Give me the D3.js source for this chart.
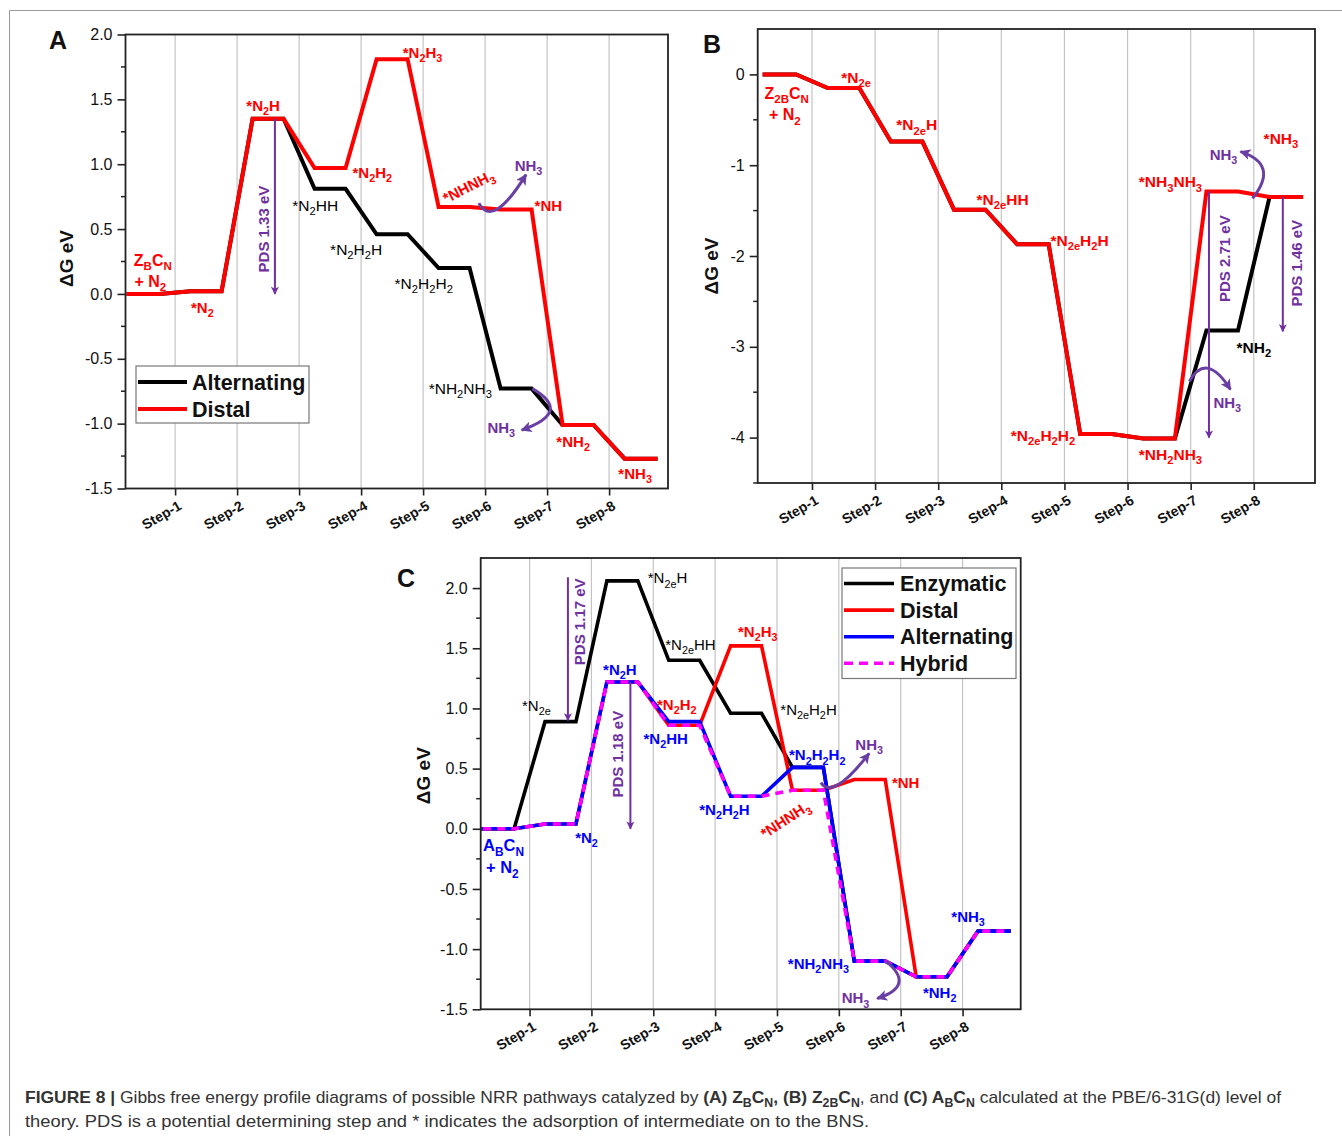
<!DOCTYPE html>
<html><head><meta charset="utf-8">
<script src="https://cdn.jsdelivr.net/npm/d3@7"></script>
<style>
body{margin:0;background:#fff}
svg{display:block}
text{font-family:"Liberation Sans",Arial,Helvetica,sans-serif}
</style>
</head><body>
<svg id="c" width="1342" height="1136"></svg>
<script>
// ---------------- DATA ----------------
const steps = ["Step-1","Step-2","Step-3","Step-4","Step-5","Step-6","Step-7","Step-8"];
const ticksAC = [-1.5,-1.0,-0.5,0.0,0.5,1.0,1.5,2.0];
const ticksB = [-4,-3,-2,-1,0];

// Panel A (Z_B C_N)
const aAlternating = [0, 0.02, 1.35, 0.81, 0.46, 0.20, -0.73, -1.01, -1.27];
const aDistal      = [0, 0.02, 1.35, 0.97, 1.81, 0.67, 0.65, -1.01, -1.27];
// Panel B (Z_2B C_N)
const bAlternating = [0, -0.15, -0.74, -1.49, -1.87, -3.96, -4.01, -2.82, -1.35];
const bDistal      = [0, -0.15, -0.74, -1.49, -1.87, -3.96, -4.01, -1.29, -1.35];
// Panel C (A_B C_N)
const cEnzymatic   = [0, 0.89, 2.06, 1.40, 0.96, 0.51, -1.10, -1.23, -0.85];
const cDistal      = [0, 0.04, 1.22, 0.86, 1.52, 0.32, 0.41, -1.23, -0.85];
const cAlternating = [0, 0.04, 1.22, 0.89, 0.27, 0.51, -1.10, -1.23, -0.85];
const cHybrid      = [0, 0.04, 1.22, 0.86, 0.27, 0.32, -1.10, -1.23, -0.85];

// annotations: [text, x(step units), y(eV), rotation]
const aRedLabels = [["*N{2}",1.44,-0.11],["*N{2}H",2.42,1.45],["*N{2}H{2}",4.18,0.93],["*N{2}H{3}",4.99,1.86],
  ["*NHNH{3}",5.77,0.83,-27],["*NH",7.02,0.68],["*NH{2}",7.42,-1.14],["*NH{3}",8.42,-1.39]];
const aBlackLabels = [["*N{2}HH",3.26,0.68],["*N{2}H{2}H",3.92,0.34],["*N{2}H{2}H{2}",5.01,0.08],["*NH{2}NH{3}",5.6,-0.73]];
const aStart = [["Z{B}C{N}",0.64,0.256],["+ N{2}",0.60,0.095]];
const aNH3 = [["NH{3}",6.70,0.99],["NH{3}",6.26,-1.03]];

const bRedLabels = [["*N{2e}",1.70,-0.04],["*N{2e}H",2.66,-0.56],["*N{2e}HH",4.02,-1.38],["*N{2e}H{2}H",5.24,-1.83],
  ["*N{2e}H{2}H{2}",4.66,-3.98],["*NH{2}NH{3}",6.68,-4.19],["*NH{3}NH{3}",6.68,-1.19],["*NH{3}",8.43,-0.71]];
const bBlackLabels = [["*NH{2}",8.00,-3.01]];
const bStart = [["Z{2B}C{N}",0.60,-0.215],["+ N{2}",0.57,-0.45]];
const bNH3 = [["NH{3}",7.52,-0.89],["NH{3}",7.58,-3.62]];

const cBlackLabels = [["*N{2e}",1.11,1.02],["*N{2e}H",3.23,2.08],["*N{2e}HH",3.60,1.53],["*N{2e}H{2}H",5.51,0.99]];
const cRedLabels = [["*N{2}H{2}",3.38,1.03],["*N{2}H{3}",4.69,1.635],["*NHNH{3}",5.18,0.08,-33],["*NH",7.08,0.384]];
const cBlueLabels = [["*N{2}",1.92,-0.077],["*N{2}H",2.46,1.32],["*N{2}HH",3.20,0.75],["*N{2}H{2}H",4.15,0.155],
  ["*N{2}H{2}H{2}",5.65,0.61],["*NH{2}NH{3}",5.67,-1.12],["*NH{2}",7.63,-1.365],["*NH{3}",8.09,-0.73]];
const cStart = [["A{B}C{N}",0.58,-0.146],["+ N{2}",0.56,-0.326]];
const cNH3 = [["NH{3}",6.49,0.70],["NH{3}",6.27,-1.41]];

// PDS arrows: [x, yFrom, yTo, label, labelX, labelY]
const aPDS = [[2.61,1.35,0.0,"PDS 1.33 eV",2.42,0.5]];
const bPDS = [[7.29,-1.29,-4.0,"PDS 2.71 eV",7.53,-2.03],[8.46,-1.35,-2.83,"PDS 1.46 eV",8.67,-2.08]];
const cPDS = [[1.62,2.09,0.90,"PDS 1.17 eV",1.80,1.72],[2.63,1.22,0.0,"PDS 1.18 eV",2.42,0.62]];
// curved NH3 release arrows: start, control, end
const aCurves = [[[5.9,0.70],[6.12,0.5],[6.66,0.92]],[[6.76,-0.73],[7.42,-0.91],[6.59,-1.05]]];
const bCurves = [[[7.98,-1.366],[8.41,-0.99],[7.79,-0.85]],[[6.98,-3.38],[7.25,-3.05],[7.63,-3.47]]];
const cCurves = [[[5.71,0.384],[5.9,0.234],[6.49,0.627]],[[6.76,-1.10],[7.25,-1.305],[6.62,-1.41]]];

// ---------------- STYLE ----------------
const RED="#ff0000", BLACK="#000000", BLUE="#0000ff", MAG="#ff00ff", PURPLE="#7030a0", CURVE="#6a3fa3";
const FONT = "'Liberation Sans', Arial, sans-serif";

const svg = d3.select("#c");
const defs = svg.append("defs");
function marker(id, color, w, h){
  defs.append("marker").attr("id",id).attr("viewBox","0 0 10 10").attr("refX",9).attr("refY",5)
    .attr("markerUnits","userSpaceOnUse").attr("markerWidth",w).attr("markerHeight",h).attr("orient","auto")
    .append("path").attr("d","M0,0 L10,5 L0,10 L2.5,5 z").attr("fill",color);
}
marker("pds", PURPLE, 9, 8);
marker("crv", CURVE, 11, 11);

// page border
svg.append("line").attr("x1",9.5).attr("x2",1342).attr("y1",10.5).attr("y2",10.5).attr("stroke","#999").attr("stroke-width",1);
svg.append("line").attr("x1",9.5).attr("x2",9.5).attr("y1",10.5).attr("y2",1136).attr("stroke","#999").attr("stroke-width",1);

function rich(g, str, x, y, o){
  const fs = o.size||15;
  const t = g.append("text").attr("x",x).attr("y",y).attr("text-anchor",o.anchor||"middle")
    .attr("font-size",fs).attr("font-weight",o.weight||"bold").attr("fill",o.color||"#000");
  if (o.rotate) t.attr("transform",`rotate(${o.rotate},${x},${y})`);
  const sh = fs*0.28;
  let sub=false;
  str.split(/(\{[^}]*\})/).filter(s=>s.length).forEach(p=>{
    if (p[0]==="{"){ t.append("tspan").attr("font-size",fs*0.72).attr("dy",sh).text(p.slice(1,-1)); sub=true; }
    else { const ts=t.append("tspan").text(p); if(sub) ts.attr("dy",-sh); sub=false; }
  });
  return t;
}

function panel(p){
  const g = svg.append("g");
  const x = d3.scaleLinear().domain(p.xDomain).range(p.xRange);
  const y = d3.scaleLinear().domain(p.yDomain).range(p.yRange);
  const top=p.yRange[1], bot=p.yRange[0], left=p.xRange[0], right=p.xRange[1];
  // grid
  g.append("g").selectAll("line").data(steps).join("line")
    .attr("x1",(d,i)=>x(i+1)).attr("x2",(d,i)=>x(i+1)).attr("y1",top).attr("y2",bot)
    .attr("stroke","#c4c4c4").attr("stroke-width",1.2);
  // y axis
  const ya = g.append("g").attr("transform",`translate(${left},0)`)
    .call(d3.axisLeft(y).tickValues(p.yTicks).tickFormat(p.fmt).tickSize(8).tickPadding(5));
  ya.select(".domain").remove();
  ya.selectAll("line").attr("stroke","#222").attr("stroke-width",1.6);
  ya.selectAll("text").attr("font-size",16).attr("font-family",FONT).attr("fill","#111");
  // minor ticks
  g.append("g").selectAll("line").data(p.minor).join("line")
    .attr("x1",left-4.5).attr("x2",left).attr("y1",d=>y(d)).attr("y2",d=>y(d)).attr("stroke","#222").attr("stroke-width",1.5);
  // x axis
  const xa = g.append("g").attr("transform",`translate(0,${bot})`)
    .call(d3.axisBottom(x).tickValues(d3.range(1,9)).tickFormat((d,i)=>steps[i]).tickSize(7));
  xa.select(".domain").remove();
  xa.selectAll("line").attr("stroke","#222").attr("stroke-width",1.6);
  xa.selectAll("text").attr("font-size",14).attr("font-weight","bold").attr("font-family",FONT)
    .attr("fill","#111").attr("text-anchor","end").attr("x",7).attr("y",20).attr("dy",null)
    .attr("transform","rotate(-30,7,20)");
  // y title
  const tx = p.titleX, ty = (top+bot)/2 + p.titleDy;
  g.append("text").attr("transform",`translate(${tx},${ty}) rotate(-90)`).attr("text-anchor","middle")
    .attr("font-size",19).attr("font-weight","bold").attr("fill","#111").text("ΔG eV");
  // panel letter
  g.append("text").attr("x",p.letter[1]).attr("y",p.letter[2]).attr("font-size",25).attr("font-weight","bold")
    .attr("text-anchor","middle").attr("fill","#111").text(p.letter[0]);
  // series
  const line = d3.line().x(d=>x(d[0])).y(d=>y(d[1]));
  p.series.forEach(s=>{
    const pts = s.values.flatMap((v,i)=>[[i+0.25,v],[i+0.75,v]]);
    const path = g.append("path").attr("d",line(pts)).attr("fill","none").attr("stroke",s.color)
      .attr("stroke-width",s.width).attr("stroke-linejoin","miter").attr("stroke-linecap",s.dash?"butt":"square");
    if (s.dash) path.attr("stroke-dasharray",s.dash);
  });
  // PDS arrows
  p.pds.forEach(a=>{
    g.append("line").attr("x1",x(a[0])).attr("x2",x(a[0])).attr("y1",y(a[1])).attr("y2",y(a[2]))
      .attr("stroke",PURPLE).attr("stroke-width",2).attr("marker-end","url(#pds)");
    g.append("text").attr("transform",`translate(${x(a[4])+5.5},${y(a[5])}) rotate(-90)`).attr("text-anchor","middle")
      .attr("font-size",15).attr("font-weight","bold").attr("fill",PURPLE).text(a[3]);
  });
  // curved arrows
  p.curves.forEach(c=>{
    g.append("path").attr("d",`M${x(c[0][0])},${y(c[0][1])} Q${x(c[1][0])},${y(c[1][1])} ${x(c[2][0])},${y(c[2][1])}`)
      .attr("fill","none").attr("stroke",CURVE).attr("stroke-width",3).attr("marker-end","url(#crv)");
  });
  // labels
  p.labels.forEach(L=>{
    L.items.forEach(d=>{
      rich(g, d[0], x(d[1]), y(d[2])+5, {color:L.color, weight:L.weight, size:L.size, rotate:d[3]});
    });
  });
  // frame
  g.append("rect").attr("x",left).attr("y",top).attr("width",right-left).attr("height",bot-top)
    .attr("fill","none").attr("stroke","#222").attr("stroke-width",1.8);
  // legend
  if (p.legend){
    const L=p.legend;
    g.append("rect").attr("x",L.box[0]).attr("y",L.box[1]).attr("width",L.box[2]-L.box[0]).attr("height",L.box[3]-L.box[1])
      .attr("fill","#fff").attr("stroke","#777").attr("stroke-width",1.2);
    L.items.forEach((it,i)=>{
      const yy = L.y0 + i*L.dy;
      const ln = g.append("line").attr("x1",L.lx[0]).attr("x2",L.lx[1]).attr("y1",yy).attr("y2",yy)
        .attr("stroke",it.color).attr("stroke-width",it.width);
      if (it.dash) ln.attr("stroke-dasharray",it.dash);
      g.append("text").attr("x",L.tx).attr("y",yy+7.5).attr("font-size",21.5).attr("font-weight","bold")
        .attr("fill","#111").text(it.name);
    });
  }
  return {x,y};
}

const fmtAC = d=> d3.format(".1f")(d).replace("\u2212","-");
const fmtB = d=> String(d);

panel({
  xDomain:[0.2,8.95], xRange:[125.5,668], yDomain:[-1.5,2.0], yRange:[488.5,34.5],
  yTicks:ticksAC, fmt:fmtAC, minor:d3.range(-1.25,2.0,0.5), titleX:73, titleDy:-3, letter:["A",58,49],
  series:[{values:aAlternating,color:BLACK,width:4},{values:aDistal,color:RED,width:4}],
  pds:aPDS, curves:aCurves,
  labels:[{items:aRedLabels,color:RED,weight:"bold",size:15},{items:aBlackLabels,color:BLACK,weight:"normal",size:15.5},
          {items:aStart,color:RED,weight:"bold",size:16},{items:aNH3,color:PURPLE,weight:"bold",size:15}],
  legend:{box:[136,366,309,423], lx:[138,187], tx:192, y0:382, dy:27,
    items:[{name:"Alternating",color:BLACK,width:4},{name:"Distal",color:RED,width:4}]}
});

panel({
  xDomain:[0.14,8.97], xRange:[757.7,1315], yDomain:[-4.5,0.5], yRange:[483,29],
  yTicks:ticksB, fmt:fmtB, minor:[-4.5,-3.5,-2.5,-1.5,-0.5], titleX:718, titleDy:10, letter:["B",712,53],
  series:[{values:bAlternating,color:BLACK,width:4},{values:bDistal,color:RED,width:4}],
  pds:bPDS, curves:bCurves,
  labels:[{items:bRedLabels,color:RED,weight:"bold",size:15.5},{items:bBlackLabels,color:BLACK,weight:"bold",size:15.5},
          {items:bStart,color:RED,weight:"bold",size:16},{items:bNH3,color:PURPLE,weight:"bold",size:15}]
});

panel({
  xDomain:[0.21,8.94], xRange:[480.7,1020.7], yDomain:[-1.5,2.25], yRange:[1009.3,558],
  yTicks:ticksAC, fmt:fmtAC, minor:d3.range(-1.25,2.25,0.5), titleX:430, titleDy:-8, letter:["C",406,587],
  series:[{values:cEnzymatic,color:BLACK,width:3.6},{values:cDistal,color:RED,width:3.6},
          {values:cAlternating,color:BLUE,width:3.6},{values:cHybrid,color:MAG,width:3.6,dash:"8,6"}],
  pds:cPDS, curves:cCurves,
  labels:[{items:cBlackLabels,color:BLACK,weight:"normal",size:15},{items:cRedLabels,color:RED,weight:"bold",size:15},
          {items:cBlueLabels,color:BLUE,weight:"bold",size:15},{items:cStart,color:BLUE,weight:"bold",size:16.5},
          {items:cNH3,color:PURPLE,weight:"bold",size:15}],
  legend:{box:[842,568,1016,678.5], lx:[844,894], tx:900, y0:583.5, dy:26.6,
    items:[{name:"Enzymatic",color:BLACK,width:3.6},{name:"Distal",color:RED,width:3.6},
           {name:"Alternating",color:BLUE,width:3.6},{name:"Hybrid",color:MAG,width:3.6,dash:"9,6"}]}
});

// ---------------- CAPTION ----------------
const cap1 = [["FIGURE 8 | ","b"],["Gibbs free energy profile diagrams of possible NRR pathways catalyzed by ","n"],
  ["(A) Z","b"],["B","bs"],["C","b"],["N","bs"],[", (B) Z","b"],["2B","bs"],["C","b"],["N","bs"],[", and ","n"],
  ["(C) A","b"],["B","bs"],["C","b"],["N","bs"],[" calculated at the PBE/6-31G(d) level of","n"]];
const cap2 = [["theory. PDS is a potential determining step and * indicates the adsorption of intermediate on to the BNS.","n"]];
function caption(segs, yb, len){
  const t = svg.append("text").attr("x",25).attr("y",yb).attr("font-size",17).attr("fill","#333")
    .style("font-family","'Liberation Sans Narrow','Liberation Sans',Arial,sans-serif")
    .attr("textLength",len).attr("lengthAdjust","spacingAndGlyphs");
  let sub=false;
  segs.forEach(s=>{
    const ts = t.append("tspan").text(s[0]).attr("font-weight",s[1][0]==="b"?"bold":"normal");
    if (s[1]==="bs"){ ts.attr("font-size",12).attr("dy",4); sub=true; }
    else if (sub){ ts.attr("dy",-4); sub=false; }
  });
}
caption(cap1, 1103, 1256);
caption(cap2, 1127, 844);
</script>
</body></html>
